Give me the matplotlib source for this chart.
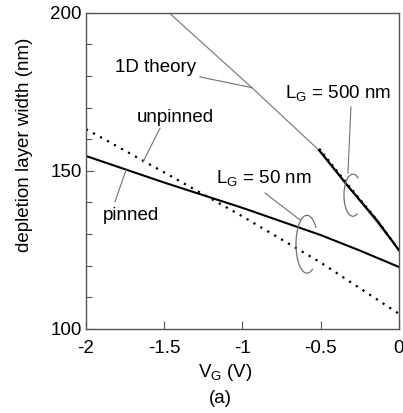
import matplotlib
matplotlib.use("Agg")
import numpy as np
import matplotlib.pyplot as plt

plt.rcParams['font.family'] = ['Liberation Sans', 'DejaVu Sans']
plt.rcParams['mathtext.default'] = 'regular'

# L_G = 50 nm curves
vg_50 = [-2.0, -1.5, -1.0, -0.5, -0.25, 0.0]
pinned_50 = [154.7, 146.3, 138.3, 129.7, 124.8, 119.6]
unpinned_50 = [163.2, 149.5, 135.6, 121.0, 112.9, 104.8]

# L_G = 500 nm curves
vg_500 = [-0.51, -0.32, -0.14, 0.0]
pinned_500 = [156.5, 144.8, 134.3, 124.9]
unpinned_500 = [157.0, 145.2, 134.4, 124.9]

# 1D theory
vg_1d = [-1.47, -0.94, -0.5, 0.0]
theory_1d = [200.0, 176.3, 156.0, 125.0]

x_ticks = [-2, -1.5, -1, -0.5, 0]
x_tick_labels = ["-2", "-1.5", "-1", "-0.5", "0"]
y_ticks = [100, 150, 200]

fig = plt.figure(figsize=(4.03, 4.13), dpi=100)
ax = fig.add_axes([0.2134, 0.2034, 0.7766, 0.7658])

fs = 13.5
spine_col = '#555555'
ann_col = '#707070'

ax.plot(vg_1d, theory_1d, color='#808080', lw=0.9)
ax.plot(vg_50, pinned_50, color='black', lw=1.5)
ax.plot(vg_50, unpinned_50, color='black', lw=1.6, linestyle=(0, (1, 2.6)))
ax.plot(vg_500, pinned_500, color='black', lw=1.6)
ax.plot(vg_500, unpinned_500, color='black', lw=1.6, linestyle=(0, (1, 2.0)))

ax.set_xlim(-2, 0)
ax.set_ylim(100, 200)
ax.set_xticks(x_ticks)
ax.set_xticklabels(x_tick_labels)
ax.set_yticks(y_ticks)
ax.set_yticks(range(100, 201, 10), minor=True)
ax.tick_params(axis='both', which='both', direction='in', colors=spine_col,
               labelcolor='black', labelsize=fs)
ax.tick_params(axis='x', which='major', length=6, width=0.8, pad=8)
ax.tick_params(axis='y', which='major', length=6, width=0.8, pad=3)
ax.tick_params(axis='y', which='minor', length=4, width=0.8)
for s in ax.spines.values():
    s.set_color(spine_col)
    s.set_linewidth(1.0)

ax.set_xlabel('$V_G$ (V)', fontsize=fs)
ax.xaxis.set_label_coords(0.444, -0.104)
ax.set_ylabel('depletion layer width (nm)', fontsize=fs)
ax.yaxis.set_label_coords(-0.17, 0.582)
fig.text(0.546, 0.036, '(a)', fontsize=fs, ha='center', va='center')


def ring(cx, cy, w, h, t1, t2):
    # open ellipse bracket drawn around a pair of curves
    t = np.radians(np.linspace(t1, t2, 80))
    ax.plot(cx + 0.5 * w * np.cos(t), cy + 0.5 * h * np.sin(t),
            color=ann_col, lw=0.9)


# annotations
ax.text(-1.553, 182.8, '1D theory', fontsize=fs, ha='center', va='center')
ax.plot([-1.272, -0.939], [179.7, 176.3], color=ann_col, lw=0.8)

ax.text(-1.431, 167.0, 'unpinned', fontsize=fs, ha='center', va='center')
ax.plot([-1.527, -1.636], [163.5, 152.8], color=ann_col, lw=0.8)

ax.text(-1.712, 136.0, 'pinned', fontsize=fs, ha='center', va='center')
ax.plot([-1.815, -1.744], [140.2, 150.3], color=ann_col, lw=0.8)

ax.text(-0.866, 147.7, '$L_G$ = 50 nm', fontsize=fs, ha='center', va='center')
ax.plot([-0.856, -0.633], [143.0, 134.5], color=ann_col, lw=0.8)
ring(-0.588, 126.8, 0.14, 18.3, 36, 300)

ax.text(-0.387, 174.6, '$L_G$ = 500 nm', fontsize=fs, ha='center', va='center')
ax.plot([-0.307, -0.326], [170.2, 149.3], color=ann_col, lw=0.8)
ring(-0.294, 142.3, 0.115, 13.3, 55, 297)

fig.savefig('out.png', dpi=100)
